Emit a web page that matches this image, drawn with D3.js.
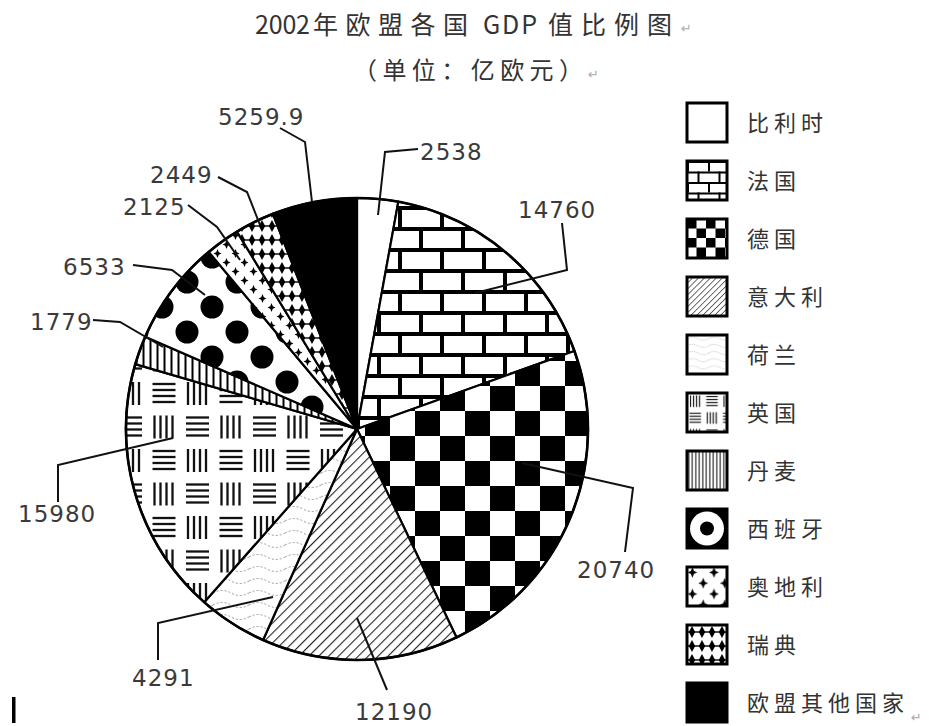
<!DOCTYPE html>
<html>
<head>
<meta charset="utf-8">
<script src="https://cdn.jsdelivr.net/npm/d3@7"></script>
<style>
  body { margin: 0; background: #fff; }
  .num { font-family: "DejaVu Sans", sans-serif; font-size: 23px; fill: #3a3a3a; letter-spacing: 1px; }
  .cjk { font-family: "Noto Sans CJK SC", sans-serif; fill: #333; }
  .mark { font-family: "DejaVu Sans", sans-serif; fill: #aaa; font-size: 13px; }
</style>
</head>
<body>
<div id="chart"></div>
<script>
// data (unit: 亿欧元)
var countries = ['比利时', '法国', '德国', '意大利', '荷兰', '英国', '丹麦', '西班牙', '奥地利', '瑞典', '欧盟其他国家'];
var gdp = [2538, 14760, 20740, 12190, 4291, 15980, 1779, 6533, 2125, 2449, 5259.9];
var valueLabels = ['2538', '14760', '20740', '12190', '4291', '15980', '1779', '6533', '2125', '2449', '5259.9'];
var fills = ['white', 'brick', 'checker', 'hatch', 'wave', 'grid', 'vline', 'dots', 'star', 'diamond', 'black'];

// callout layout: text anchor + leader polyline (outer -> inner)
var callouts = [
    {tx: 420, ty: 160, line: [[418, 149], [385, 152], [378, 215]]},
    {tx: 518, ty: 218, line: [[562, 223], [567, 270], [475, 293]]},
    {tx: 577, ty: 578, line: [[625, 552], [633, 488], [522, 463]]},
    {tx: 355, ty: 720, line: [[387, 690], [357, 618]]},
    {tx: 132, ty: 686, line: [[158, 660], [158, 623], [273, 597]]},
    {tx: 18, ty: 522, line: [[58, 502], [58, 465], [173, 438]]},
    {tx: 30, ty: 330, line: [[93, 320], [120, 322], [163, 347]]},
    {tx: 63, ty: 275, line: [[133, 265], [172, 270], [205, 295]]},
    {tx: 123, ty: 215, line: [[188, 205], [217, 227], [240, 260]]},
    {tx: 150, ty: 183, line: [[218, 177], [247, 192], [260, 225]]},
    {tx: 218, ty: 125, line: [[280, 128], [305, 142], [312, 202]]}
];

var svgWidth = 929;
var svgHeight = 726;
var cx = 357, cy = 429, radius = 231;

var svg = d3.select('#chart').append('svg')
    .attr('width', svgWidth)
    .attr('height', svgHeight);

var defs = svg.append('defs');

function addPattern(id, kind, s, ox, oy) {
    var size = {brick: [42, 42], checker: [50, 50], hatch: [7, 7], wave: [36, 12],
        grid: [67, 67], vline: [7, 10], dots: [50, 50], star: [18, 18], diamond: [10, 14]}[kind];
    var rot = kind === 'hatch' ? ' rotate(45)' : '';
    var p = defs.append('pattern')
        .attr('id', id)
        .attr('patternUnits', 'userSpaceOnUse')
        .attr('width', size[0])
        .attr('height', size[1])
        .attr('patternTransform', `translate(${ox},${oy}) scale(${s})${rot}`);
    p.append('rect').attr('width', size[0]).attr('height', size[1]).attr('fill', '#fff');

    if (kind === 'brick') {
        [[0, 0, 42, 4], [0, 21, 42, 4], [0, 0, 4, 21], [21, 21, 4, 21]].forEach(function(r) {
            p.append('rect').attr('x', r[0]).attr('y', r[1]).attr('width', r[2]).attr('height', r[3]).attr('fill', '#000');
        });
    }
    else if (kind === 'checker') {
        p.append('rect').attr('width', 25).attr('height', 25).attr('fill', '#000');
        p.append('rect').attr('x', 25).attr('y', 25).attr('width', 25).attr('height', 25).attr('fill', '#000');
    }
    else if (kind === 'hatch') {
        p.append('line').attr('x1', 0).attr('y1', 0).attr('x2', 0).attr('y2', 7)
            .attr('stroke', '#222').attr('stroke-width', 2.2);
    }
    else if (kind === 'wave') {
        p.append('path').attr('d', 'M0,6 Q9,1 18,6 T36,6')
            .attr('fill', 'none').attr('stroke', '#9a9a9a').attr('stroke-width', 1)
            .attr('stroke-dasharray', '2,2');
    }
    else if (kind === 'grid') {
        var cells = [[0, 0, 'v'], [33.5, 0, 'h'], [0, 33.5, 'h'], [33.5, 33.5, 'v']];
        cells.forEach(function(c) {
            for (var i = 0; i < 4; i++) {
                var o = 7 + i * 6;
                if (c[2] === 'v') {
                    p.append('line').attr('x1', c[0] + o).attr('x2', c[0] + o)
                        .attr('y1', c[1] + 5).attr('y2', c[1] + 28);
                } else {
                    p.append('line').attr('y1', c[1] + o).attr('y2', c[1] + o)
                        .attr('x1', c[0] + 5).attr('x2', c[0] + 28);
                }
            }
        });
        p.selectAll('line').attr('stroke', '#111').attr('stroke-width', 2.3);
    }
    else if (kind === 'vline') {
        p.append('rect').attr('x', 2.5).attr('width', 2).attr('height', 10).attr('fill', '#000');
    }
    else if (kind === 'dots') {
        [[0, 0], [50, 0], [0, 50], [50, 50], [25, 25]].forEach(function(c) {
            p.append('circle').attr('cx', c[0]).attr('cy', c[1]).attr('r', 11.5).attr('fill', '#000');
        });
    }
    else if (kind === 'star') {
        [[4.5, 4.5], [13.5, 13.5]].forEach(function(c) {
            var x = c[0], y = c[1];
            p.append('path')
                .attr('d', `M${x},${y - 4.5}L${x + 1.3},${y - 1.3}L${x + 4},${y}L${x + 1.3},${y + 1.3}L${x},${y + 4.5}L${x - 1.3},${y + 1.3}L${x - 4},${y}L${x - 1.3},${y - 1.3}Z`)
                .attr('fill', '#000');
        });
    }
    else if (kind === 'diamond') {
        p.append('path').attr('d', 'M5,1L8.2,7L5,13L1.8,7Z').attr('fill', '#000');
        p.append('rect').attr('x', 0).attr('y', 6.3).attr('width', 10).attr('height', 1.4).attr('fill', '#000');
    }
}

// pie-scale patterns
addPattern('p-brick', 'brick', 1, 398, 8);
addPattern('p-checker', 'checker', 1, 8, 32);
addPattern('p-hatch', 'hatch', 1, 0, 0);
addPattern('p-wave', 'wave', 1, 0, 2);
addPattern('p-grid', 'grid', 1, 159, 417);
addPattern('p-vline', 'vline', 1, 0, 0);
addPattern('p-dots', 'dots', 1, 180, 303);
addPattern('p-star', 'star', 1, 0, 0);
addPattern('p-diamond', 'diamond', 1, 0, 0);

function fillFor(kind, prefix) {
    if (kind === 'white') return '#fff';
    if (kind === 'black') return '#000';
    return `url(#${prefix}-${kind})`;
}

// pie
var pie = d3.pie().sort(null).value(function(d) { return d; });
var arc = d3.arc().innerRadius(0).outerRadius(radius);
var arcs = pie(gdp);

var pieGroup = svg.append('g')
    .attr('transform', `translate(${cx}, ${cy})`);

pieGroup.selectAll('path.slice')
    .data(arcs)
    .enter()
    .append('path')
    .classed('slice', true)
    .attr('d', arc)
    .attr('fill', function(d, i) { return fillFor(fills[i], 'p'); })
    .attr('stroke', '#000')
    .attr('stroke-width', 2.2)
    .attr('stroke-linejoin', 'round');

pieGroup.append('circle')
    .attr('r', radius)
    .attr('fill', 'none')
    .attr('stroke', '#000')
    .attr('stroke-width', 2.6);

// callouts
var lineGen = d3.line();
svg.selectAll('path.leader')
    .data(callouts)
    .enter()
    .append('path')
    .classed('leader', true)
    .attr('d', function(d) { return lineGen(d.line); })
    .attr('fill', 'none')
    .attr('stroke', '#111')
    .attr('stroke-width', 2);

svg.selectAll('text.num')
    .data(callouts)
    .enter()
    .append('text')
    .classed('num', true)
    .attr('x', function(d) { return d.tx; })
    .attr('y', function(d) { return d.ty; })
    .text(function(d, i) { return valueLabels[i]; });

// title, split so the digits stay tight like the original
var title = svg.append('text')
    .classed('cjk', true)
    .attr('y', 34)
    .attr('font-size', '25px');
[['2002', 255, 55], ['年欧盟各国', 313, 155], ['GDP', 483, 54], ['值比例图', 548, 124]].forEach(function(t) {
    title.append('tspan')
        .attr('x', t[1])
        .attr('textLength', t[2])
        .attr('lengthAdjust', 'spacing')
        .text(t[0]);
});
svg.append('text').classed('mark', true).attr('x', 681).attr('y', 33).text('↵');

svg.append('text')
    .classed('cjk', true)
    .attr('x', 353)
    .attr('y', 79)
    .attr('font-size', '24px')
    .attr('textLength', 230)
    .attr('lengthAdjust', 'spacing')
    .text('（单位：亿欧元）');
svg.append('text').classed('mark', true).attr('x', 588).attr('y', 79).text('↵');

// legend
var legendScale = [1, 0.5, 0.38, 0.6, 0.6, 0.5, 0.5, 1, 1.2, 1, 1];
var legend = svg.append('g');
countries.forEach(function(name, i) {
    var x = 687, y = 103 + 58 * i;
    var kind = fills[i];
    var g = legend.append('g');
    if (kind === 'dots') {
        g.append('rect').attr('x', x).attr('y', y).attr('width', 40).attr('height', 39).attr('fill', '#000');
        g.append('circle').attr('cx', x + 20).attr('cy', y + 19.5).attr('r', 17).attr('fill', '#fff');
        g.append('circle').attr('cx', x + 20).attr('cy', y + 19.5).attr('r', 7).attr('fill', '#000');
    } else {
        var f = fillFor(kind, 'l' + i);
        if (kind !== 'white' && kind !== 'black') {
            addPattern('l' + i + '-' + kind, kind, legendScale[i], x, y);
        }
        g.append('rect').attr('x', x).attr('y', y).attr('width', 40).attr('height', 39).attr('fill', f);
    }
    g.append('rect')
        .attr('x', x).attr('y', y).attr('width', 40).attr('height', 39)
        .attr('fill', 'none').attr('stroke', '#000').attr('stroke-width', 3);
    g.append('text')
        .classed('cjk', true)
        .attr('x', 747)
        .attr('y', y + 28)
        .attr('font-size', '22px')
        .attr('letter-spacing', '5px')
        .text(name);
});
svg.append('text').classed('mark', true).attr('x', 911).attr('y', 722).text('↵');

// stray text cursor in the lower-left corner
svg.append('rect').attr('x', 12).attr('y', 697).attr('width', 3.5).attr('height', 26).attr('fill', '#000');
</script>
</body>
</html>
